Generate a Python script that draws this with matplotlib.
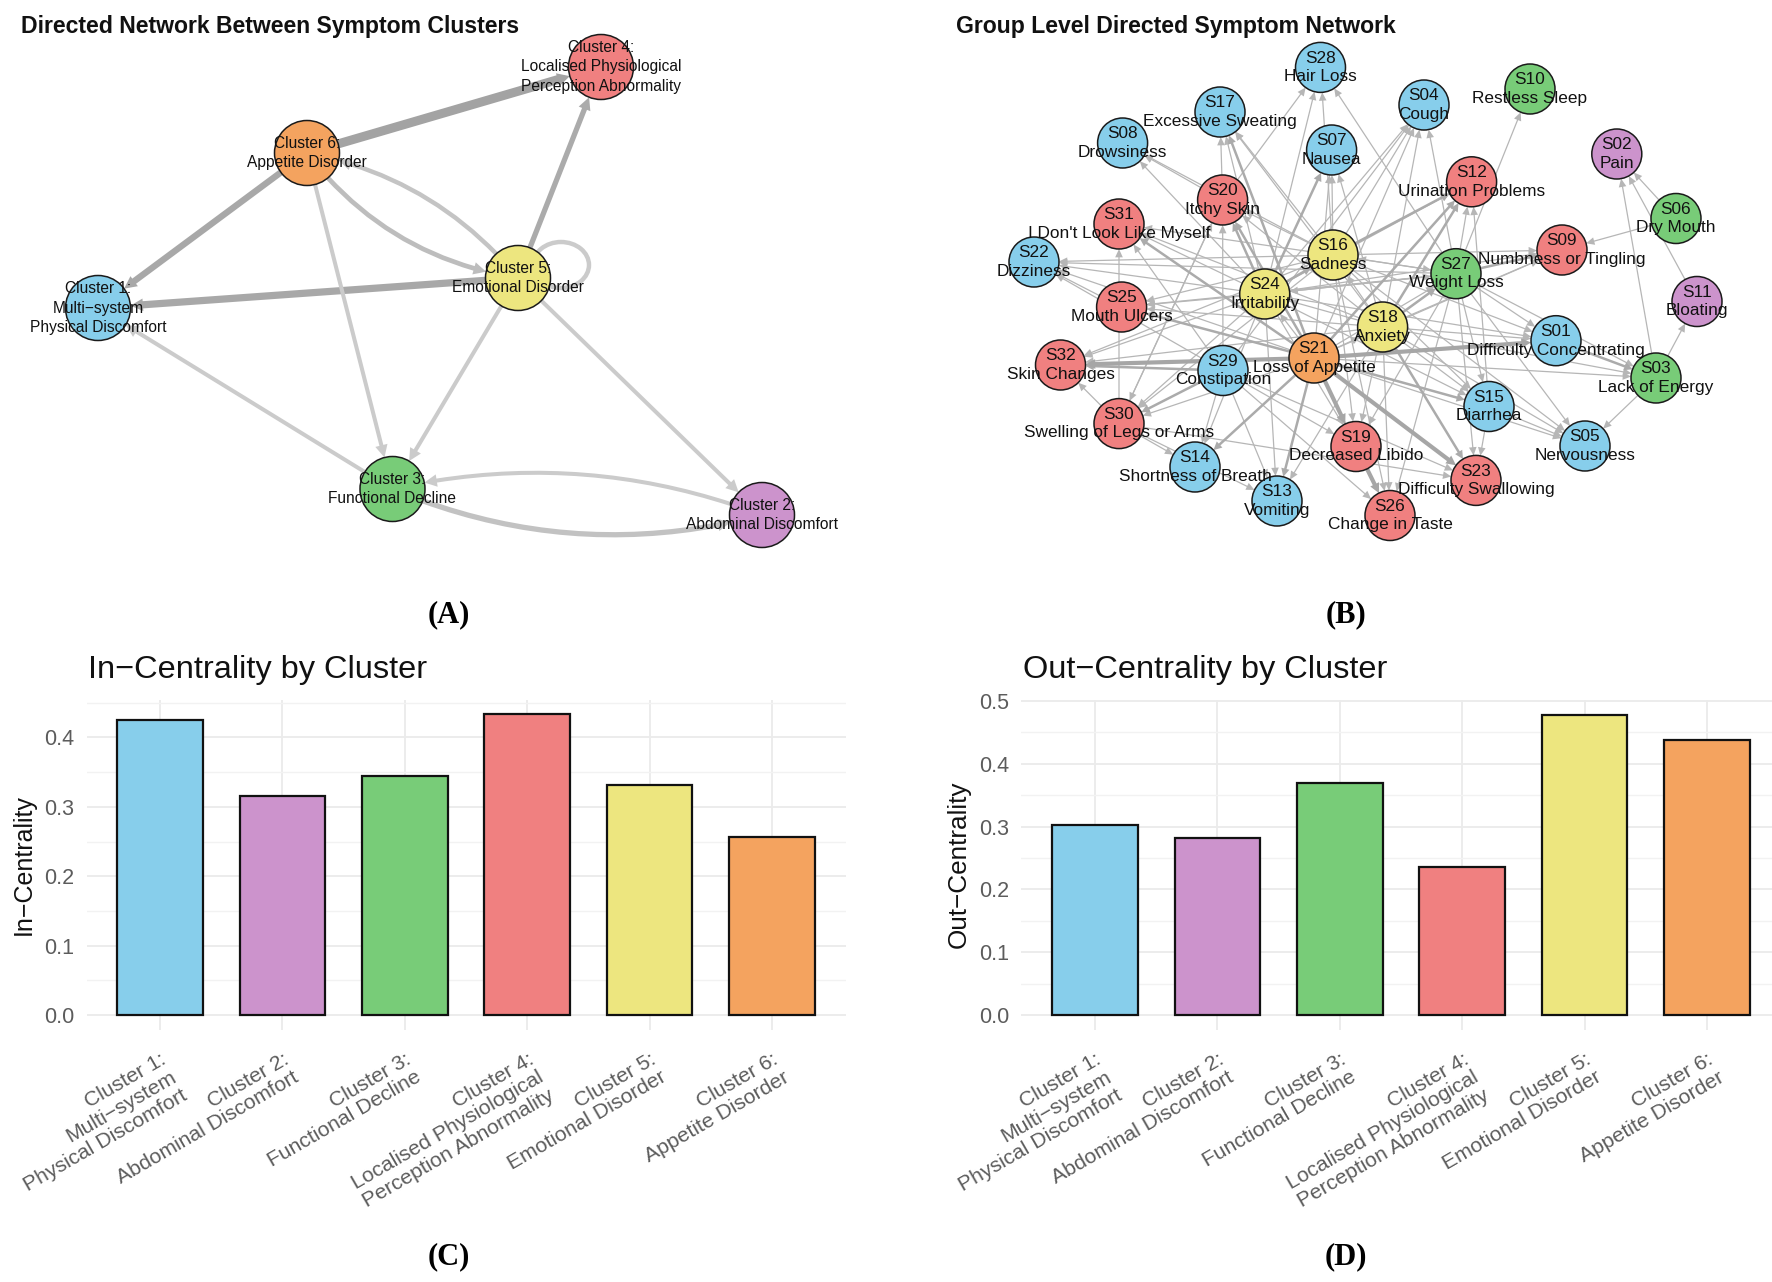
import matplotlib
matplotlib.use("Agg")
import matplotlib.pyplot as plt
from matplotlib.patches import Circle, FancyArrowPatch, Ellipse
from matplotlib.ticker import MultipleLocator

plt.rcParams['font.family'] = ['Liberation Sans', 'DejaVu Sans']

W, H = 1772, 1282
DPI = 100

# palette by cluster
blue, purple, green, red, yellow, orange = '#87CEEB', '#CC93CC', '#78CC78', '#F08080', '#EDE67F', '#F4A35F'

# ---- Panel A data (layout position of each cluster node)
cluster_names = ["Cluster 1:\nMulti\u2212system\nPhysical Discomfort", "Cluster 2:\nAbdominal Discomfort",
                 "Cluster 3:\nFunctional Decline", "Cluster 4:\nLocalised Physiological\nPerception Abnormality",
                 "Cluster 5:\nEmotional Disorder", "Cluster 6:\nAppetite Disorder"]
cluster_colors = [blue, purple, green, red, yellow, orange]
cluster_x = [98, 762, 392.5, 601, 518, 307]
cluster_y = [308, 515, 489, 67, 278, 153]
# source, target (1-based cluster ids), weight in points, grey, curvature
a_src = [6, 6, 5, 5, 6, 5, 6, 5, 5, 3, 2, 3]
a_dst = [4, 1, 1, 4, 5, 6, 3, 3, 2, 1, 3, 2]
a_wt = [6.5, 4.6, 5.2, 3.8, 3.4, 3.2, 2.9, 2.9, 2.9, 2.9, 2.9, 3.8]
a_grey = ['#A3A3A3', '#A8A8A8', '#A8A8A8', '#ABABAB', '#BDBDBD', '#C4C4C4', '#CBCBCB', '#CBCBCB',
          '#CBCBCB', '#CBCBCB', '#CBCBCB', '#C2C2C2']
a_curve = [0, 0, 0, 0, 0.2, 0.18, 0, 0, 0, 0, 0.15, 0.17]

# ---- Panel B data
sym_ids = ['S01', 'S02', 'S03', 'S04', 'S05', 'S06', 'S07', 'S08', 'S09', 'S10', 'S11', 'S12', 'S13', 'S14', 'S15',
           'S16', 'S17', 'S18', 'S19', 'S20', 'S21', 'S22', 'S23', 'S24', 'S25', 'S26', 'S27', 'S28', 'S29', 'S30',
           'S31', 'S32']
sym_names = ['Difficulty Concentrating', 'Pain', 'Lack of Energy', 'Cough', 'Nervousness', 'Dry Mouth', 'Nausea',
             'Drowsiness', 'Numbness or Tingling', 'Restless Sleep', 'Bloating', 'Urination Problems', 'Vomiting',
             'Shortness of Breath', 'Diarrhea', 'Sadness', 'Excessive Sweating', 'Anxiety', 'Decreased Libido',
             'Itchy Skin', 'Loss of Appetite', 'Dizziness', 'Difficulty Swallowing', 'Irritability', 'Mouth Ulcers',
             'Change in Taste', 'Weight Loss', 'Hair Loss', 'Constipation', 'Swelling of Legs or Arms',
             "I Don't Look Like Myself", 'Skin Changes']
sym_colors = [blue, purple, green, blue, blue, green, blue, blue, red, green, purple, red, blue, blue, blue,
              yellow, blue, yellow, red, red, orange, blue, red, yellow, red, red, green, blue, blue, red, red, red]
sym_x = [1556, 1616.8, 1656, 1424, 1585, 1676, 1331.6, 1122.6, 1562, 1530, 1697, 1471.6, 1277, 1195, 1489,
         1333, 1220, 1382.6, 1356, 1222.6, 1314, 1034, 1476, 1264.7, 1121.6, 1390, 1456, 1320.5, 1223, 1119,
         1119, 1060.5]
sym_y = [340.7, 154, 378, 105, 446, 218.5, 150, 143, 250, 89, 301.5, 181.8, 501, 467, 406.5,
         255, 112, 327, 446.5, 200, 358, 262, 480.4, 294, 307, 515.5, 273.7, 67.4, 370.5, 423.6,
         224, 365]

edges_heavy = ["S21>S32", "S19>S26", "S21>S01", "S21>S23", "S21>S19"]
edges_mid = ["S21>S31", "S21>S20", "S21>S12", "S21>S15", "S21>S14", "S21>S13", "S21>S17", "S21>S25", "S29>S30",
             "S27>S09", "S18>S27", "S24>S20", "S24>S07", "S16>S12", "S01>S03", "S29>S32", "S18>S12", "S24>S16",
             "S18>S23"]
edges_thin = ["S20>S28", "S24>S28", "S16>S28", "S27>S28", "S20>S17", "S24>S17", "S18>S17", "S16>S17",
              "S20>S08", "S24>S08", "S16>S08", "S24>S04", "S21>S04", "S18>S04", "S16>S04", "S27>S04", "S29>S04",
              "S21>S07", "S16>S07", "S18>S07", "S27>S10", "S03>S02", "S06>S02", "S11>S02", "S06>S09", "S03>S11",
              "S03>S05", "S27>S03", "S18>S03", "S21>S03", "S27>S05", "S18>S05", "S21>S05", "S15>S05", "S16>S05",
              "S27>S01", "S18>S01", "S16>S01", "S24>S01", "S27>S15", "S18>S15", "S24>S15", "S16>S15", "S15>S23",
              "S27>S23", "S29>S23", "S30>S23", "S21>S26", "S18>S26", "S27>S26", "S29>S26", "S16>S26", "S18>S19",
              "S16>S19", "S27>S19", "S24>S19", "S29>S19", "S29>S13", "S24>S13", "S18>S13", "S30>S13", "S29>S14",
              "S24>S14", "S30>S14", "S24>S30", "S21>S30", "S20>S30", "S30>S31", "S16>S30", "S24>S32", "S16>S32",
              "S30>S32", "S18>S32", "S24>S25", "S16>S25", "S27>S25", "S18>S25", "S16>S22", "S24>S22", "S27>S22",
              "S21>S22", "S25>S22", "S29>S22", "S24>S31", "S16>S31", "S29>S31", "S18>S31", "S29>S20", "S30>S20",
              "S16>S20", "S18>S20", "S27>S12", "S24>S12", "S15>S12", "S16>S09", "S18>S09", "S21>S09", "S24>S09",
              "S21>S27", "S24>S27", "S16>S27", "S21>S24", "S27>S24", "S18>S24", "S27>S16", "S18>S16", "S21>S18"]

# ---- Panels C and D data
bar_pos = [1, 2, 3, 4, 5, 6]
in_centrality = [0.425, 0.315, 0.344, 0.434, 0.332, 0.256]
out_centrality = [0.303, 0.282, 0.369, 0.235, 0.478, 0.438]

tick_names = cluster_names


def make_axes(fig, left, top, right, bottom):
    return fig.add_axes([left / W, 1 - bottom / H, (right - left) / W, (bottom - top) / H])


fig = plt.figure(figsize=(W / DPI, H / DPI), dpi=DPI, facecolor='white')
px = 72 / DPI


def add_edge(ax, p, q, r, wt, grey, curve=0.0, hl=9, hw=9, z=1):
    style = f"simple,head_length={hl},head_width={hw},tail_width={wt}"
    ax.add_patch(FancyArrowPatch(p, q, arrowstyle=style, mutation_scale=1, shrinkA=r * px, shrinkB=r * px,
                                 connectionstyle=f"arc3,rad={curve}", fc=grey, ec='none', lw=0, zorder=z))


def add_node(ax, x, y, r, col, label, fs, ls):
    ax.add_patch(Circle((x, y), r, fc=col, ec='#1A1A1A', lw=1.1, zorder=3))
    ax.text(x, y, label, ha='center', va='center', fontsize=fs, color='#111111', zorder=4, linespacing=ls,
            clip_on=False)


# Panels A and B share one canvas measured in layout units
net = fig.add_axes([0, 0, 1, 1], zorder=1)
net.set_xlim(0, W)
net.set_ylim(H, 0)
net.axis('off')

# Panel A
RA = 32.5
for s, d, w, g, c in zip(a_src, a_dst, a_wt, a_grey, a_curve):
    add_edge(net, (cluster_x[s - 1], cluster_y[s - 1]), (cluster_x[d - 1], cluster_y[d - 1]), RA,
             w, g, c, hl=9, hw=max(9, w + 3))
net.add_patch(Ellipse((561, 265), 56, 46, fc='none', ec='#CBCBCB', lw=3.2, zorder=1))
for x, y, c, n in zip(cluster_x, cluster_y, cluster_colors, cluster_names):
    add_node(net, x, y, RA, c, n, 11.2, 1.38)

# Panel B
RB = 25
pos = {k: (x, y) for k, x, y in zip(sym_ids, sym_x, sym_y)}
for group, w, g, hl, hw in ((edges_thin, 0.9, '#B6B6B6', 6, 5.5), (edges_mid, 1.8, '#ABABAB', 6, 6),
                            (edges_heavy, 3.0, '#A6A6A6', 7, 7)):
    for e in group:
        a, b = e.split('>')
        add_edge(net, pos[a], pos[b], RB, w, g, 0, hl=hl, hw=hw)
for k, n, x, y, c in zip(sym_ids, sym_names, sym_x, sym_y, sym_colors):
    add_node(net, x, y, RB, c, f"{k}\n{n}", 12.4, 1.3)

# Titles and panel letters
for txt, x in (("Directed Network Between Symptom Clusters", 21.5), ("Group Level Directed Symptom Network", 956)):
    net.text(x, 26.5, txt, fontsize=16.6, fontweight='bold', ha='left', va='center', color='#111111')
for txt, x, y in (("(A)", 449, 615), ("(B)", 1346, 615), ("(C)", 449, 1257), ("(D)", 1345.5, 1257)):
    net.text(x, y, txt, family='Liberation Serif', fontsize=22, fontweight='bold', ha='center', va='center',
             color='black')


# Bar panels
def bar_panel(left, right, vals, ymin, ymax, title, ylabel, ylab_x, title_x, ylab_fs):
    ax = make_axes(fig, left, 699.5, right, 1030)
    ax.set_zorder(0)
    ax.set_xlim(0.4, 6.6)
    ax.set_ylim(ymin, ymax)
    ax.bar(bar_pos, vals, width=0.7, color=cluster_colors, edgecolor='#111111', linewidth=1.6, zorder=3)
    ax.yaxis.set_major_locator(MultipleLocator(0.1))
    ax.yaxis.set_minor_locator(MultipleLocator(0.05))
    ax.grid(True, which='major', color='#EBEBEB', lw=1.3, zorder=0)
    ax.grid(True, which='minor', axis='y', color='#F2F2F2', lw=1.0, zorder=0)
    ax.set_axisbelow(True)
    for s in ax.spines.values():
        s.set_visible(False)
    ax.set_xticks(bar_pos)
    ax.set_xticklabels(tick_names, rotation=30, ha='right', va='top', rotation_mode='anchor', fontsize=15.2,
                       color='#5C5C5C', multialignment='right', linespacing=1.12)
    ax.tick_params(axis='x', which='both', length=0, pad=14)
    ax.tick_params(axis='y', which='both', length=0, pad=9, labelsize=15.5, labelcolor='#5C5C5C')
    ax.yaxis.set_major_formatter(lambda v, _: f"{v:.1f}")
    net.text(title_x, 670, title, fontsize=23.4, ha='left', va='center', color='#111111')
    net.text(ylab_x, 864.5, ylabel, fontsize=ylab_fs, rotation=90, ha='center', va='center', color='#111111')
    return ax


bar_panel(86.5, 845.5, in_centrality, -0.0217, 0.4547, "In\u2212Centrality by Cluster", "In\u2212Centrality", 24, 88,
          18)
bar_panel(1021.5, 1780.5, out_centrality, -0.0239, 0.5025, "Out\u2212Centrality by Cluster", "Out\u2212Centrality",
          958.5, 1022.7, 18.8)

fig.savefig("out.png", dpi=DPI)
